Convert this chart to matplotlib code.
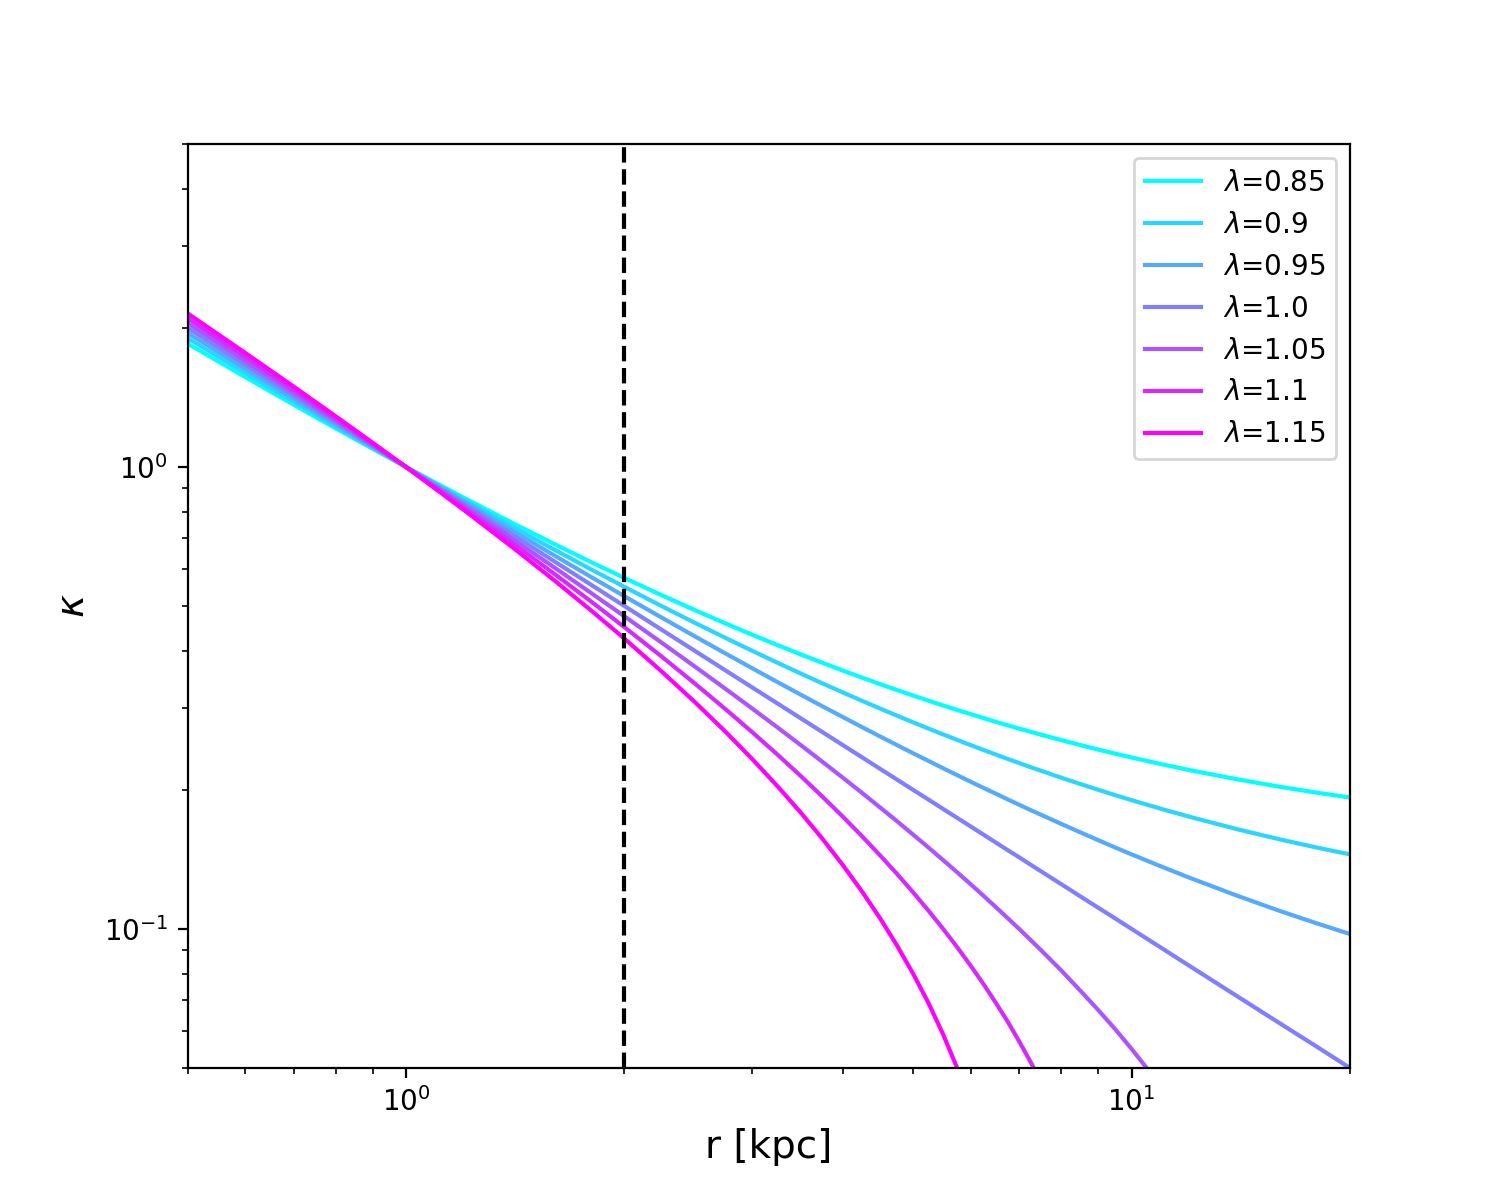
import numpy as np
import matplotlib
matplotlib.use("Agg")
import matplotlib.pyplot as plt

nan = np.nan

r_kpc = [0.5, 0.6, 0.7, 0.8, 0.9, 1.0, 1.2, 1.4, 1.6, 1.8, 2.0, 2.25, 2.5, 2.75,
         3.0, 3.25, 3.5, 3.75, 4.0, 4.25, 4.5, 4.75, 5.0, 5.25, 5.5, 5.75, 6.0,
         6.25, 6.5, 6.75, 7.0, 7.25, 7.5, 8.0, 8.5, 9.0, 9.5, 10.0, 11.0, 12.0,
         14.0, 16.0, 18.0, 20.0]

lambdas = [0.85, 0.9, 0.95, 1.0, 1.05, 1.1, 1.15]

kappa_085 = [1.85, 1.5667, 1.3643, 1.2125, 1.0944, 1.0, 0.8583, 0.7571, 0.6813,
             0.6222, 0.575, 0.5278, 0.49, 0.4591, 0.4333, 0.4115, 0.3929, 0.3767,
             0.3625, 0.35, 0.3389, 0.3289, 0.32, 0.3119, 0.3045, 0.2978, 0.2917,
             0.286, 0.2807, 0.2759, 0.2714, 0.2672, 0.2633, 0.2563, 0.25, 0.2444,
             0.2395, 0.235, 0.2273, 0.2208, 0.2107, 0.2031, 0.1972, 0.1925]
kappa_090 = [1.9, 1.6, 1.3857, 1.225, 1.1, 1.0, 0.85, 0.7429, 0.6625, 0.6, 0.55,
             0.5, 0.46, 0.4273, 0.4, 0.3769, 0.3571, 0.34, 0.325, 0.3118, 0.3,
             0.2895, 0.28, 0.2714, 0.2636, 0.2565, 0.25, 0.244, 0.2385, 0.2333,
             0.2286, 0.2241, 0.22, 0.2125, 0.2059, 0.2, 0.1947, 0.19, 0.1818,
             0.175, 0.1643, 0.1563, 0.15, 0.145]
kappa_095 = [1.95, 1.6333, 1.4071, 1.2375, 1.1056, 1.0, 0.8417, 0.7286, 0.6438,
             0.5778, 0.525, 0.4722, 0.43, 0.3955, 0.3667, 0.3423, 0.3214, 0.3033,
             0.2875, 0.2735, 0.2611, 0.25, 0.24, 0.231, 0.2227, 0.2152, 0.2083,
             0.202, 0.1962, 0.1907, 0.1857, 0.181, 0.1767, 0.1688, 0.1618, 0.1556,
             0.15, 0.145, 0.1364, 0.1292, 0.1179, 0.1094, 0.1028, 0.0975]
kappa_100 = [2.0, 1.6667, 1.4286, 1.25, 1.1111, 1.0, 0.8333, 0.7143, 0.625,
             0.5556, 0.5, 0.4444, 0.4, 0.3636, 0.3333, 0.3077, 0.2857, 0.2667,
             0.25, 0.2353, 0.2222, 0.2105, 0.2, 0.1905, 0.1818, 0.1739, 0.1667,
             0.16, 0.1538, 0.1481, 0.1429, 0.1379, 0.1333, 0.125, 0.1176, 0.1111,
             0.1053, 0.1, 0.0909, 0.0833, 0.0714, 0.0625, 0.0556, 0.05]
kappa_105 = [2.05, 1.7, 1.45, 1.2625, 1.1167, 1.0, 0.825, 0.7, 0.6063, 0.5333,
             0.475, 0.4167, 0.37, 0.3318, 0.3, 0.2731, 0.25, 0.23, 0.2125,
             0.1971, 0.1833, 0.1711, 0.16, 0.15, 0.1409, 0.1326, 0.125, 0.118,
             0.1115, 0.1055, 0.1, 0.0948, 0.09, 0.0813, 0.0735, 0.0667, 0.0606,
             0.055, 0.0455, 0.0375, 0.025, 0.0156, 0.0083, 0.0025]
kappa_110 = [2.1, 1.7333, 1.4714, 1.275, 1.1222, 1.0, 0.8167, 0.6857, 0.5875,
             0.5111, 0.45, 0.3889, 0.34, 0.3, 0.2667, 0.2385, 0.2143, 0.1933,
             0.175, 0.1588, 0.1444, 0.1316, 0.12, 0.1095, 0.1, 0.0913, 0.0833,
             0.076, 0.0692, 0.063, 0.0571, 0.0517, 0.0467, 0.0375, 0.0294,
             0.0222, 0.0158, 0.01, nan, nan, nan, nan, nan, nan]
kappa_115 = [2.15, 1.7667, 1.4929, 1.2875, 1.1278, 1.0, 0.8083, 0.6714, 0.5688,
             0.4889, 0.425, 0.3611, 0.31, 0.2682, 0.2333, 0.2038, 0.1786, 0.1567,
             0.1375, 0.1206, 0.1056, 0.0921, 0.08, 0.0691, 0.0591, 0.05, 0.0417,
             0.034, 0.0269, 0.0203, 0.0143, 0.0086, 0.0033, nan, nan, nan, nan,
             nan, nan, nan, nan, nan, nan, nan]

kappas = [kappa_085, kappa_090, kappa_095, kappa_100, kappa_105, kappa_110, kappa_115]
r_marker = 2.0

fig, ax = plt.subplots(figsize=(7.5, 6), dpi=200)
colors = plt.cm.cool(np.linspace(0, 1, len(lambdas)))
for lam, kap, c in zip(lambdas, kappas, colors):
    ax.plot(r_kpc, kap, color=c, label=r'$\lambda$=' + str(lam))
ax.axvline(r_marker, color='k', linestyle='--')
ax.set_xscale('log')
ax.set_yscale('log')
ax.set_xlim(0.5, 20)
ax.set_ylim(0.05, 5)
ax.set_xlabel('r [kpc]', fontsize=14)
ax.set_ylabel(r'$\kappa$', fontsize=14)
ax.legend(loc='upper right')
fig.savefig('out.png', dpi=200)
